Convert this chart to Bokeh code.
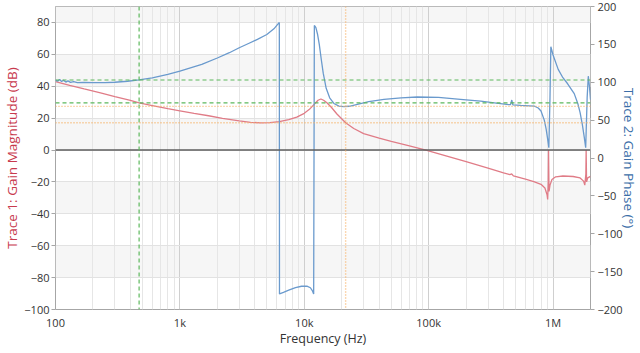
from bokeh.plotting import figure
from bokeh.models import Range1d, LinearAxis, FixedTicker, Span, BoxAnnotation
from bokeh.embed import file_html
from bokeh.resources import INLINE

# ---------------- data ----------------
gain_freq = [100, 130, 170, 230, 300, 400, 470, 600, 800, 1000, 1300, 1700, 2200, 3000,
             3700, 4500, 5300, 6300, 7500, 8700, 10000, 11000, 12000, 12900, 13600, 14300,
             15200, 16500, 18300, 21500, 25000, 30000, 40000, 50000, 70000, 95000, 140000,
             200000, 300000, 400000, 450000, 465000, 480000, 600000, 700000, 800000, 860000,
             895000, 905000, 915000, 920000, 928000, 945000, 980000, 1050000, 1200000,
             1450000, 1650000, 1760000, 1800000, 1835000, 1845000, 1860000, 1900000, 2000000]
gain_db = [42.9, 40.6, 38.3, 35.8, 33.5, 31.1, 29.6, 27.9, 25.9, 24.6, 23.0, 21.5, 19.9, 18.3,
           17.4, 17.0, 17.2, 17.8, 19.0, 20.6, 23.0, 25.5, 28.6, 31.2, 32.0, 31.2,
           29.6, 26.8, 22.6, 17.1, 13.5, 10.3, 7.5, 5.4, 2.6, 0.0, -3.8,
           -7.3, -11.3, -14.3, -15.4, -15.0, -16.2, -18.3, -19.8, -21.5, -23.8,
           -28.0, -31.0, -20.0, 0.0, -26.0, -22.0, -18.5, -16.8, -16.3,
           -16.6, -17.5, -19.5, -22.0, -15.0, 0.0, -20.0, -17.5, -16.5]

phase_freq = [100, 104, 108, 112, 116, 121, 126, 132, 140, 150, 170, 200, 250, 300, 380, 470,
              600, 800, 1000, 1500, 2000, 2500, 3000, 3600, 4200, 5000, 5700, 6300, 6320,
              6800, 7500, 8500, 9500, 10500, 11200, 11600, 11900, 12050, 12400, 12800, 13200,
              13700, 14200, 15000, 16000, 17300, 19000, 20800, 23000, 26700, 33000, 43700,
              60000, 81000, 120000, 180000, 262000, 350000, 440000, 455000, 466000, 475000,
              550000, 705000, 760000, 800000, 850000, 880000, 905000, 925000, 945000, 960000,
              1000000, 1100000, 1200000, 1310000, 1480000, 1580000, 1650000, 1720000,
              1780000, 1830000, 1880000, 1920000, 1960000, 2000000]
phase_deg = [102.8, 101.5, 103.6, 101.0, 102.6, 100.2, 101.8, 99.8, 100.9, 99.6, 99.7, 99.4,
             99.6, 100.0, 101.3, 103.0, 105.8, 110.5, 114.8, 123.5, 132.0, 139.0, 145.5,
             151.5, 156.6, 163.0, 170.5, 179.0, -179.5, -177.5, -174.5, -171.0, -169.3,
             -169.2, -171.3, -175.0, -179.5, 175.0, 172.0, 163.0, 150.0, 130.0, 112.0, 92.0,
             79.5, 72.0, 68.5, 67.7, 68.3, 70.8, 74.5, 77.4, 79.5, 80.5, 80.0, 77.5, 75.2,
             72.5, 70.5, 70.5, 76.5, 70.2, 69.5, 68.6, 66.0, 62.0, 50.0, 38.0, 25.0, 13.5,
             80.0, 147.0, 136.0, 117.0, 106.0, 98.0, 85.0, 72.0, 60.0, 44.0, 28.0, 13.5,
             80.0, 108.0, 95.0, 77.0]

x_major = [100, 1000, 10000, 100000, 1000000]
x_labels = ["100", "1k", "10k", "100k", "1M"]
x_minor = [m * 10 ** k for k in range(2, 7) for m in range(2, 10) if m * 10 ** k <= 2000000]
gain_ticks = [-100, -80, -60, -40, -20, 0, 20, 40, 60, 80]
phase_ticks = [-200, -150, -100, -50, 0, 50, 100, 150, 200]
gain_limits = (-100, 90)
phase_limits = (-200, 200)
freq_limits = (100, 2000000)

green_cursor_freq = 470
green_cursor_gain = 29.6
green_cursor_phase = 103.0
orange_cursor_freq = 21500
orange_cursor_gain = 17.1
orange_cursor_phase = 68.2

RED = "#e07c87"
BLUE = "#6a9acd"
GREEN = "#5cb85c"
ORANGE = "#f7b267"
FONT = "Open Sans"

p = figure(width=640, height=353, x_axis_type="log",
           x_range=Range1d(*freq_limits), y_range=Range1d(*gain_limits),
           output_backend="svg", toolbar_location=None,
           min_border_left=55, min_border_right=50, min_border_top=6, min_border_bottom=44)
p.extra_y_ranges = {"phase": Range1d(*phase_limits)}
p.background_fill_color = "white"
p.border_fill_color = "white"
p.outline_line_color = "#a6a6a6"

# alternating background bands
edges = gain_ticks + [gain_limits[1]]
for i in range(len(edges) - 1, 0, -2):
    p.add_layout(BoxAnnotation(bottom=edges[i - 1], top=edges[i], fill_color="#f6f6f6",
                               fill_alpha=1.0, line_alpha=0, level="image"))

# grids
p.xgrid.ticker = FixedTicker(ticks=x_major, minor_ticks=x_minor)
p.xgrid.grid_line_color = "#cfcfcf"
p.xgrid.minor_grid_line_color = "#e6e6e6"
p.ygrid.ticker = FixedTicker(ticks=gain_ticks)
p.ygrid.grid_line_color = "#e2e2e2"

# axes
xa = p.xaxis[0]
xa.ticker = FixedTicker(ticks=x_major, minor_ticks=x_minor)
xa.major_label_overrides = dict(zip(x_major, x_labels))
xa.major_tick_out = 0
xa.major_tick_in = 0
xa.minor_tick_out = 0
xa.minor_tick_in = 0
xa.axis_line_color = None
xa.axis_label = "Frequency (Hz)"
xa.major_label_standoff = 5
xa.axis_label_standoff = -3

ya = p.yaxis[0]
ya.ticker = FixedTicker(ticks=gain_ticks)
ya.axis_label = "Trace 1: Gain Magnitude (dB)"
ya.axis_label_text_color = "#c83a4e"
ya.major_tick_out = 4
ya.major_tick_in = 0
ya.minor_tick_out = 0
ya.minor_tick_in = 0
ya.axis_line_color = None
ya.major_tick_line_color = "#a6a6a6"
ya.major_label_standoff = 2
ya.axis_label_standoff = 0

ra = LinearAxis(y_range_name="phase", ticker=FixedTicker(ticks=phase_ticks),
                axis_label="Trace 2: Gain Phase (°)")
ra.axis_label_text_color = "#3b6ea8"
ra.major_tick_out = 4
ra.major_tick_in = 0
ra.minor_tick_out = 0
ra.minor_tick_in = 0
ra.axis_line_color = None
ra.major_tick_line_color = "#a6a6a6"
ra.major_label_standoff = 3
ra.axis_label_standoff = -6
p.add_layout(ra, "right")

for ax in (xa, ya, ra):
    ax.major_label_text_font = FONT
    ax.major_label_text_font_size = "11px"
    ax.major_label_text_color = "#333333"
    ax.axis_label_text_font = FONT
    ax.axis_label_text_font_style = "normal"
xa.axis_label_text_font_size = "12.5px"
ya.axis_label_text_font_size = "13.5px"
ra.axis_label_text_font_size = "13.5px"
xa.axis_label_text_color = "#333333"

# zero line
p.add_layout(Span(location=0, dimension="width", line_color="#5e5e5e", line_width=1.5))

# traces
p.line(gain_freq, gain_db, line_color=RED, line_width=1.3)
p.line(phase_freq, phase_deg, line_color=BLUE, line_width=1.3, y_range_name="phase")

# cursors
p.add_layout(Span(location=green_cursor_freq, dimension="height", line_color=GREEN,
                  line_dash="4 3", line_width=1.2))
p.add_layout(Span(location=green_cursor_gain, dimension="width", line_color=GREEN,
                  line_dash="4 3", line_width=1.2))
p.add_layout(Span(location=green_cursor_phase, dimension="width", line_color=GREEN,
                  line_dash="4 3", line_width=1.2, y_range_name="phase"))
p.add_layout(Span(location=orange_cursor_freq, dimension="height", line_color=ORANGE,
                  line_dash="1 2", line_width=1.4))
p.add_layout(Span(location=orange_cursor_gain, dimension="width", line_color=ORANGE,
                  line_dash="1 2", line_width=1.4))
p.add_layout(Span(location=orange_cursor_phase, dimension="width", line_color=ORANGE,
                  line_dash="1 2", line_width=1.4, y_range_name="phase"))

open("out.html", "w").write(file_html(p, INLINE))
